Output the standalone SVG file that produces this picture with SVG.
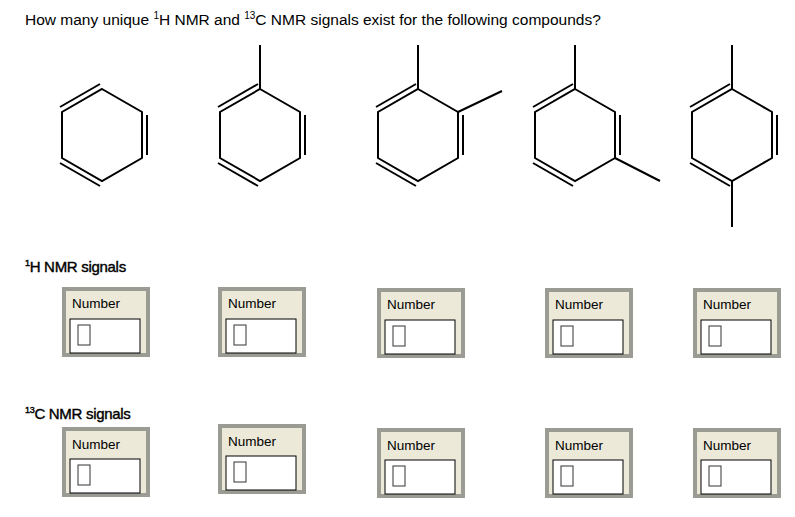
<svg xmlns="http://www.w3.org/2000/svg" width="795" height="517" viewBox="0 0 795 517">
<style>
.b{stroke:#000;stroke-width:2;fill:none;stroke-linecap:butt}
.t{font-family:"Liberation Sans",Arial,sans-serif;fill:#000}
.h{stroke:#000;stroke-width:0.4}
.box{fill:#ECE9D8;stroke:#9A9C94;stroke-width:4}
.in{fill:#fff;stroke:#000;stroke-width:1}
.cur{fill:#fff;stroke:#333;stroke-width:1}
</style>
<rect width="795" height="517" fill="#fff"/>
<text class="t" x="25" y="25" font-size="15.5">How many unique <tspan font-size="10" dy="-6">1</tspan><tspan dy="6">H NMR and </tspan><tspan font-size="10" dy="-6">13</tspan><tspan dy="6">C NMR signals exist for the following compounds?</tspan></text>
<defs>
<g id="ring">
<path class="b" d="M0,-46 L40,-23 L40,23 L0,46 L-40,23 L-40,-23 Z"/>
<path class="b" d="M-42,-28 L-2,-51"/>
<path class="b" d="M45,-20 L45,20"/>
<path class="b" d="M-42,28 L-2,51"/>
</g>
</defs>
<g id="benzene"><use href="#ring" transform="translate(102,135)"/></g>
<g id="toluene"><use href="#ring" transform="translate(260,135)"/><path class="b" d="M260,89 L260,45"/></g>
<g id="oxylene"><use href="#ring" transform="translate(418,135)"/><path class="b" d="M418,89 L418,45 M458,112 L502,91"/></g>
<g id="mxylene"><use href="#ring" transform="translate(575,135)"/><path class="b" d="M575,89 L575,45 M615,158 L660,181"/></g>
<g id="pxylene"><use href="#ring" transform="translate(732,135)"/><path class="b" d="M732,89 L732,45 M732,181 L732,227"/></g>
<text class="t h" x="25" y="272" font-size="15" letter-spacing="-0.3"><tspan font-size="9" dy="-6">1</tspan><tspan dy="6">H NMR signals</tspan></text>
<text class="t h" x="25" y="419" font-size="15" letter-spacing="-0.3"><tspan font-size="9" dy="-6">13</tspan><tspan dy="6">C NMR signals</tspan></text>
<g id="h1"><rect class="box" x="64" y="289" width="84" height="66"/><text class="t" x="72" y="308" font-size="13.5">Number</text><rect class="in" x="70" y="319" width="70" height="34"/><rect class="cur" x="78" y="325" width="12" height="20"/></g>
<g id="h2"><rect class="box" x="220" y="289" width="84" height="66"/><text class="t" x="228" y="308" font-size="13.5">Number</text><rect class="in" x="226" y="319" width="70" height="34"/><rect class="cur" x="234" y="325" width="12" height="20"/></g>
<g id="h3"><rect class="box" x="379" y="290" width="84" height="66"/><text class="t" x="387" y="309" font-size="13.5">Number</text><rect class="in" x="385" y="320" width="70" height="34"/><rect class="cur" x="393" y="326" width="12" height="20"/></g>
<g id="h4"><rect class="box" x="547" y="290" width="84" height="66"/><text class="t" x="555" y="309" font-size="13.5">Number</text><rect class="in" x="553" y="320" width="70" height="34"/><rect class="cur" x="561" y="326" width="12" height="20"/></g>
<g id="h5"><rect class="box" x="695" y="290" width="84" height="66"/><text class="t" x="703" y="309" font-size="13.5">Number</text><rect class="in" x="701" y="320" width="70" height="34"/><rect class="cur" x="709" y="326" width="12" height="20"/></g>
<g id="c1"><rect class="box" x="64" y="429" width="84" height="66"/><text class="t" x="72" y="449" font-size="13.5">Number</text><rect class="in" x="70" y="459" width="70" height="34"/><rect class="cur" x="78" y="465" width="12" height="20"/></g>
<g id="c2"><rect class="box" x="220" y="426" width="84" height="66"/><text class="t" x="228" y="446" font-size="13.5">Number</text><rect class="in" x="226" y="456" width="70" height="34"/><rect class="cur" x="234" y="462" width="12" height="20"/></g>
<g id="c3"><rect class="box" x="379" y="430" width="84" height="66"/><text class="t" x="387" y="450" font-size="13.5">Number</text><rect class="in" x="385" y="460" width="70" height="34"/><rect class="cur" x="393" y="466" width="12" height="20"/></g>
<g id="c4"><rect class="box" x="547" y="430" width="84" height="66"/><text class="t" x="555" y="450" font-size="13.5">Number</text><rect class="in" x="553" y="460" width="70" height="34"/><rect class="cur" x="561" y="466" width="12" height="20"/></g>
<g id="c5"><rect class="box" x="695" y="430" width="84" height="66"/><text class="t" x="703" y="450" font-size="13.5">Number</text><rect class="in" x="701" y="460" width="70" height="34"/><rect class="cur" x="709" y="466" width="12" height="20"/></g>
<g id="connectors"/>
</svg>
